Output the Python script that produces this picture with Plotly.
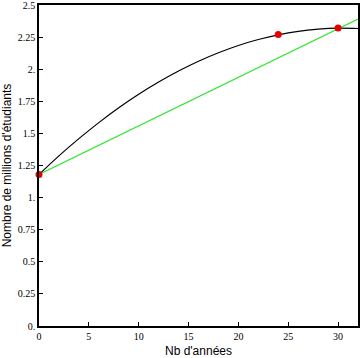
import plotly.graph_objects as go

# Curve values
curve_x = [0, 2, 4, 6, 8, 10, 12, 14, 16, 18, 20, 22, 24, 26, 28, 30, 32]
curve_y = [1.18, 1.325, 1.459, 1.584, 1.70, 1.805, 1.90, 1.986, 2.062, 2.128,
           2.185, 2.231, 2.268, 2.295, 2.312, 2.32, 2.317]

line_x = [0, 32]
line_y = [1.18, 2.39]

pts_x = [0, 24, 30]
pts_y = [1.18, 2.27, 2.32]

x_ticks = [0, 5, 10, 15, 20, 25, 30]
x_tick_labels = ["0", "5", "10", "15", "20", "25", "30"]
y_ticks = [0, 0.25, 0.5, 0.75, 1, 1.25, 1.5, 1.75, 2, 2.25, 2.5]
y_tick_labels = ["0.", "0.25", "0.5", "0.75", "1.", "1.25", "1.5", "1.75", "2.", "2.25", "2.5"]

fig = go.Figure()
fig.add_trace(go.Scatter(x=curve_x, y=curve_y, mode="lines", line=dict(color="black", width=1.2, shape="spline"),
                         hoverinfo="skip"))
fig.add_trace(go.Scatter(x=line_x, y=line_y, mode="lines", line=dict(color="#33e633", width=1.2)))
fig.add_trace(go.Scatter(x=pts_x, y=pts_y, mode="markers", marker=dict(color="#e60000", size=7),
                         cliponaxis=False))

axis_common = dict(showgrid=False, zeroline=False, showline=True, linecolor="black", linewidth=1.5,
                   mirror=True, ticks="inside", ticklen=4, tickcolor="black", ticklabeloverflow="allow",
                   tickfont=dict(family="Liberation Serif", size=10, color="black"))

fig.update_layout(
    width=360, height=358,
    margin=dict(l=39, r=2, t=5, b=32, autoexpand=False),
    plot_bgcolor="white", paper_bgcolor="white",
    showlegend=False,
    xaxis=dict(range=[0, 32], tickvals=x_ticks, ticktext=x_tick_labels, automargin=False,
               title=dict(text="Nb d'années", font=dict(family="Liberation Sans", size=12, color="black"), standoff=6),
               **axis_common),
    yaxis=dict(range=[0, 2.5], tickvals=y_ticks, ticktext=y_tick_labels, automargin=False,
               title=dict(text="Nombre de millions d'étudiants", font=dict(family="Liberation Sans", size=12, color="black"), standoff=4),
               **axis_common),
)

fig.write_html("out.html", config={"displayModeBar": False},
               post_script="document.body.style.margin='0';document.body.style.overflow='hidden';")
